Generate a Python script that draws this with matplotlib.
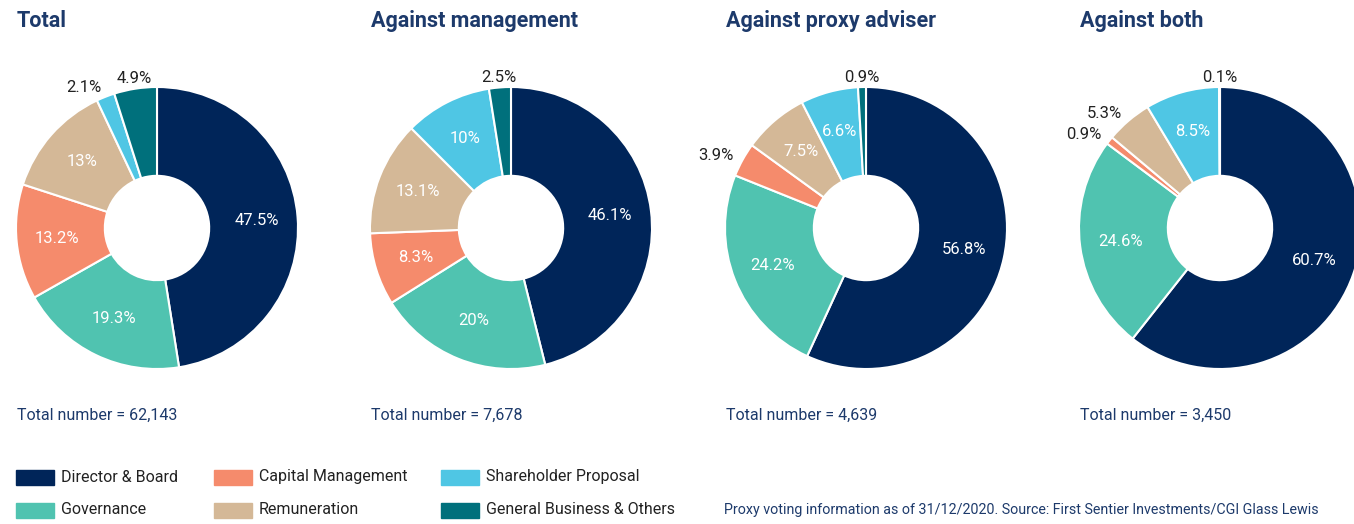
import numpy as np
import matplotlib.pyplot as plt
from matplotlib.patches import Rectangle

plt.rcParams['font.family'] = ['Roboto', 'DejaVu Sans']

categories = ['Director & Board', 'Governance', 'Capital Management',
              'Remuneration', 'Shareholder Proposal', 'General Business & Others']
colors = ['#002559', '#50c3b0', '#f58b6c', '#d4b897', '#4fc6e4', '#00707c']

titles = ['Total', 'Against management', 'Against proxy adviser', 'Against both']
totals = ['62,143', '7,678', '4,639', '3,450']
values = [
    [47.5, 19.3, 13.2, 13.0, 2.1, 4.9],
    [46.1, 20.0, 8.3, 13.1, 10.0, 2.5],
    [56.8, 24.2, 3.9, 7.5, 6.6, 0.9],
    [60.7, 24.6, 0.9, 5.3, 8.5, 0.1],
]
# which labels sit outside the ring
outside = [
    [False, False, False, False, True, True],
    [False, False, False, False, False, True],
    [False, False, True, False, False, True],
    [False, False, True, True, False, True],
]

W, H = 1354, 524
fig = plt.figure(figsize=(W / 100, H / 100), dpi=100)
navy = '#1d3a6b'

centers_x = [157, 511, 866, 1220]
cy = 228
R = 141
hole = 0.37
lim = 1.3

for i, vals in enumerate(values):
    half = R * lim
    ax = fig.add_axes([(centers_x[i] - half) / W, (H - cy - half) / H,
                       2 * half / W, 2 * half / H])
    wedges, _ = ax.pie(vals, colors=colors, startangle=90, counterclock=False,
                       wedgeprops=dict(width=1 - hole, edgecolor='white', linewidth=1.5))
    ax.set_xlim(-lim, lim)
    ax.set_ylim(-lim, lim)
    ax.set_aspect('equal')
    ax.axis('off')
    for w, v, out in zip(wedges, vals, outside[i]):
        ang = np.deg2rad((w.theta1 + w.theta2) / 2)
        lab = f'{v:g}%'
        if out:
            c, s = np.cos(ang), np.sin(ang)
            r = 1.07
            ha = 'center' if abs(c) < 0.3 else ('right' if c < 0 else 'left')
            ax.text(r * c, r * s, lab, ha=ha, va='center', fontsize=12,
                    color='#222222')
        else:
            r = 0.71
            ax.text(r * np.cos(ang), r * np.sin(ang), lab, ha='center', va='center',
                    fontsize=12, color='white')
    x0 = centers_x[i] - 140
    fig.text(x0 / W, 1 - 21 / H, titles[i], fontsize=15.5, fontweight='bold',
             color=navy, ha='left', va='center')
    fig.text(x0 / W, 1 - 415 / H, f'Total number = {totals[i]}', fontsize=11.5,
             color=navy, ha='left', va='center')

# legend
col_x = [16, 214, 441]
row_y = [477, 510]
for k, name in enumerate(categories):
    col, row = k // 2, k % 2
    x, y = col_x[col], row_y[row]
    fig.add_artist(Rectangle((x / W, (H - y - 7.5) / H), 38 / W, 15 / H,
                             transform=fig.transFigure, color=colors[k]))
    fig.text((x + 45) / W, 1 - y / H, name, fontsize=11.5, color='#222222',
             ha='left', va='center')

fig.text(724 / W, 1 - 510 / H,
         'Proxy voting information as of 31/12/2020. Source: First Sentier Investments/CGI Glass Lewis',
         fontsize=10.3, color=navy, ha='left', va='center')

fig.savefig('out.png', dpi=100)
